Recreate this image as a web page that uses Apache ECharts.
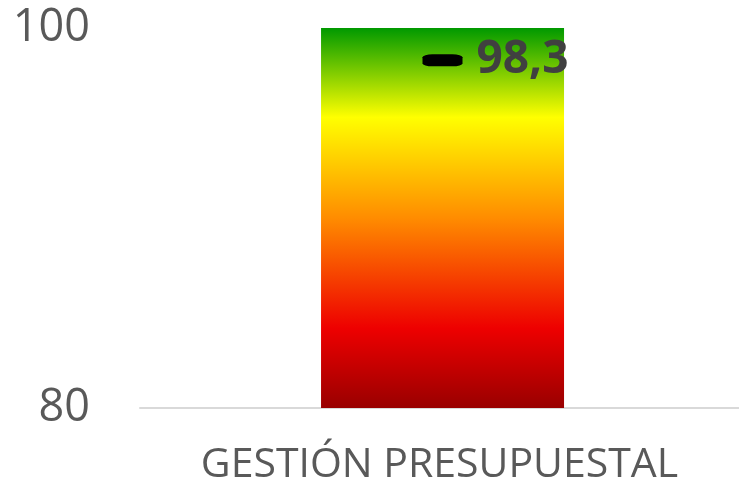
<!DOCTYPE html>
<html>
<head>
<meta charset="utf-8">
<script src="https://cdn.jsdelivr.net/npm/echarts@6/dist/echarts.min.js"></script>
<style>html,body{margin:0;padding:0;background:#fff}#c{width:739px;height:491px}</style>
</head>
<body>
<div id="c"></div>
<script>
var categories = ['GESTIÓN PRESUPUESTAL'];
var barValues = [100];
var markerValues = [98.3];
var yMin = 80, yMax = 100, yInterval = 20;

var chart = echarts.init(document.getElementById('c'), null, {renderer: 'canvas'});
chart.setOption({
  animation: false,
  grid: {left: 140, right: 0, top: 28, bottom: 83, containLabel: false},
  xAxis: {
    type: 'category',
    data: categories,
    axisLine: {show: true, lineStyle: {color: '#d9d9d9', width: 2}},
    axisTick: {show: false},
    axisLabel: {color: '#595959', fontSize: 41, fontFamily: 'Open Sans', margin: 37}
  },
  yAxis: {
    type: 'value',
    min: yMin, max: yMax, interval: yInterval,
    axisLine: {show: false},
    axisTick: {show: false},
    splitLine: {show: false},
    axisLabel: {color: '#595959', fontSize: 45, fontFamily: 'Open Sans', margin: 50}
  },
  series: [
    {
      type: 'bar',
      data: ['-'],
      barWidth: 243,
      barGap: '-97.5%',
      silent: true
    },
    {
      type: 'bar',
      data: barValues,
      barWidth: 243,
      barGap: '-97.5%',
      itemStyle: {
        color: new echarts.graphic.LinearGradient(0, 0, 0, 1, [
          {offset: 0, color: '#009900'},
          {offset: 0.235, color: '#ffff00'},
          {offset: 0.5, color: '#ff8c00'},
          {offset: 0.79, color: '#ee0000'},
          {offset: 1, color: '#990000'}
        ])
      }
    },
    {
      type: 'scatter',
      data: markerValues,
      symbol: 'roundRect',
      symbolSize: [40, 12],
      symbolOffset: [3, 0],
      itemStyle: {color: '#000000', opacity: 1},
      label: {
        show: true,
        position: 'right',
        distance: 14,
        color: '#404040',
        fontSize: 46,
        fontWeight: 'bold',
        fontFamily: 'Open Sans',
        formatter: function (p) { return String(p.value).replace('.', ','); }
      },
      z: 5
    }
  ]
});
</script>
</body>
</html>
